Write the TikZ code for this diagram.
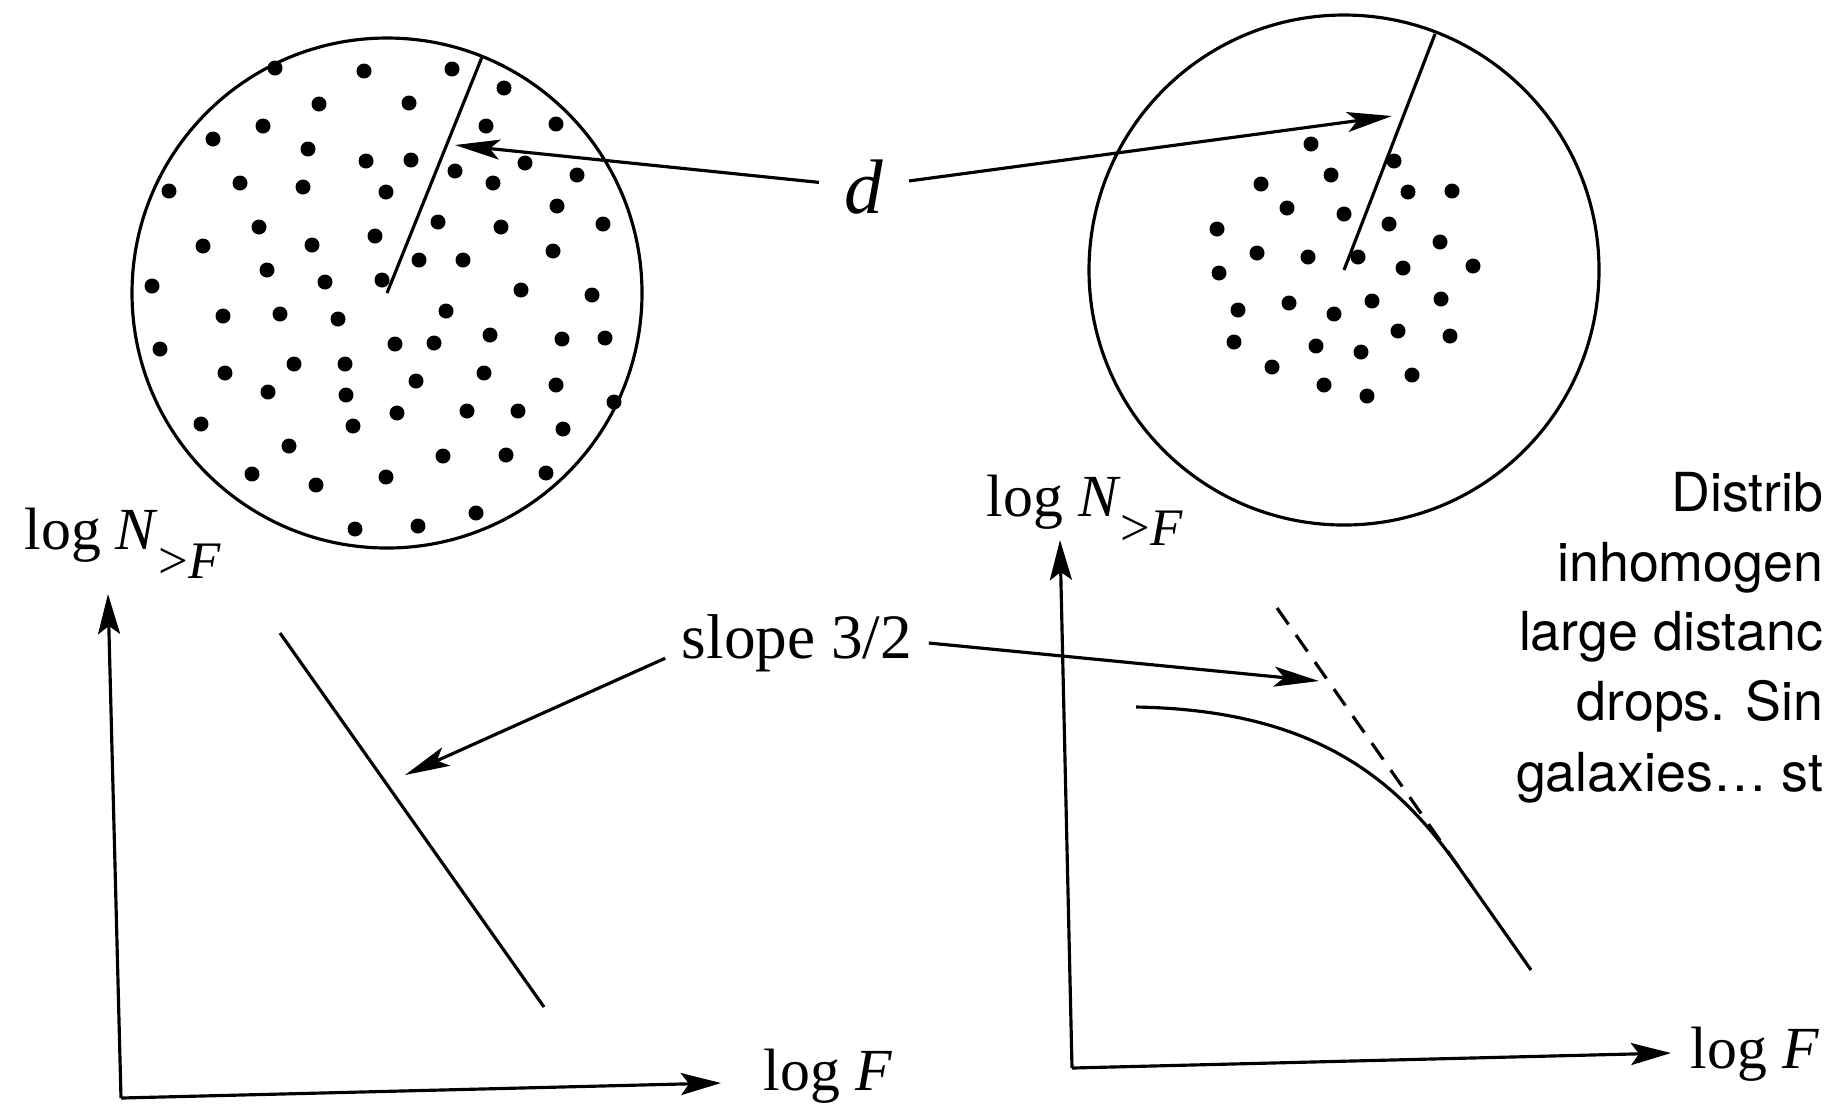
\documentclass[tikz,border=0pt]{standalone}
\usepackage{fontspec}
\setmainfont{Liberation Serif}
\newfontfamily\notefont{TeX Gyre Heros}
\usetikzlibrary{arrows.meta}

\begin{document}
\begin{tikzpicture}[
  x=0.1mm, y=-0.1mm,
  rim/.style={line width=0.9pt},
  axis/.style={line width=0.9pt, -{Stealth[length=4mm, width=2.2mm, inset=0.8mm]}},
  pointer/.style={line width=0.9pt, -{Stealth[length=4.5mm, width=2mm, inset=1mm]}},
  galaxy/.style={fill=black},
  lbl/.style={font=\fontsize{17}{20}\selectfont, inner sep=0pt},
  note/.style={font=\notefont\fontsize{15.3}{18}\selectfont, inner sep=0pt, anchor=base east}
]
\useasboundingbox (0,0) rectangle (1826,1115);

% left sphere: galaxies everywhere
\coordinate (lc) at (387,293);
\coordinate (lrim) at (482,57);
\draw[rim] (lc) circle[radius=25.5mm];
\draw[rim] (lc) -- (lrim);
\foreach \x/\y in {275/68, 364/71, 452/69, 504/88, 319/104, 409/103, 263/126, 486/126,
  556/124, 213/139, 308/149, 366/161, 411/160, 525/163, 455/171, 493/183, 577/175,
  169/191, 240/183, 303/187, 386/192, 557/206, 259/227, 375/236, 438/222, 501/227,
  603/224, 203/246, 312/245, 419/260, 463/260, 553/251, 267/270, 325/282, 382/280,
  521/290, 592/295, 152/286, 223/316, 280/314, 338/319, 446/311, 160/349, 395/344,
  434/343, 490/335, 562/339, 605/338, 225/373, 294/364, 345/364, 416/381, 484/373,
  556/385, 268/392, 346/395, 614/402, 201/424, 353/426, 397/413, 467/411, 518/411,
  563/429, 289/446, 443/456, 506/455, 252/474, 316/485, 386/477, 546/473, 355/529,
  418/526, 476/513}
  \fill[galaxy] (\x,\y) circle[radius=0.75mm];

% right sphere: galaxies only near the centre
\coordinate (rc) at (1344,270);
\coordinate (rrim) at (1435,34);
\draw[rim] (rc) circle[radius=25.5mm];
\draw[rim] (rc) -- (rrim);
\foreach \x/\y in {1311/144, 1394/161, 1261/184, 1331/175, 1408/192, 1452/191, 1287/208,
  1344/214, 1389/224, 1217/229, 1440/242, 1257/253, 1308/257, 1358/257, 1403/268,
  1473/266, 1219/273, 1289/303, 1372/301, 1441/299, 1238/310, 1334/314, 1398/331,
  1450/336, 1234/342, 1316/346, 1361/352, 1272/367, 1412/375, 1324/385, 1367/396}
  \fill[galaxy] (\x,\y) circle[radius=0.75mm];

% distance label
\node[font=\fontsize{22}{24}\selectfont\itshape, inner sep=2.5mm] (d) at (864,187) {d};
\coordinate (lhit) at (455,145);
\coordinate (rhit) at (1392,116);
\draw[pointer] (d) -- (lhit);
\draw[pointer] (d) -- (rhit);

% left counts plot
\coordinate (lo) at (121,1098);
\draw[axis] (lo) -- (108,594);
\draw[axis] (lo) -- (721,1083);
\node[lbl, anchor=base west] (lylab) at (24,549)
  {log \textit{N}\raisebox{-2.9mm}{\fontsize{15}{18}\selectfont >\textit{F}}};
\node[lbl, anchor=base west] (lxlab) at (763,1090) {log \textit{F}};
\coordinate (ltop) at (280,633);
\coordinate (lbot) at (544,1007);
\draw[rim] (ltop) -- (lbot);

% right counts plot
\coordinate (ro) at (1072,1068);
\draw[axis] (ro) -- (1060,540);
\draw[axis] (ro) -- (1671,1053);
\node[lbl, anchor=base west] (rylab) at (986,516)
  {log \textit{N}\raisebox{-2.9mm}{\fontsize{15}{18}\selectfont >\textit{F}}};
\node[lbl, anchor=base west] (rxlab) at (1690,1068) {log \textit{F}};
\draw[rim] (1136,707) .. controls (1320,710) and (1400,783.5) .. (1460,869) -- (1531,970);
\coordinate (dtop) at (1277,608);
\coordinate (dbot) at (1472,886);
\draw[rim, dash pattern=on 2mm off 1.3mm] (dtop) -- (dbot);

% slope label
\node[lbl, font=\fontsize{18}{20}\selectfont, inner sep=1.6mm] (slope) at (797,643) {slope 3/2};
\coordinate (lslopehit) at (405,775);
\coordinate (rslopehit) at (1319,681);
\draw[pointer] (slope.base west) -- (lslopehit);
\draw[pointer] (slope.east) -- (rslopehit);

% side note, ending at the page edge
\node[note] (n1) at (1824,511) {Distrib};
\node[note] (n2) at (1824,581) {inhomogen};
\node[note] (n3) at (1824,650) {large distanc};
\node[note] (n4) at (1824,720) {drops. Sin};
\node[note] (n5) at (1824,791) {galaxies… st};

\end{tikzpicture}
\end{document}
